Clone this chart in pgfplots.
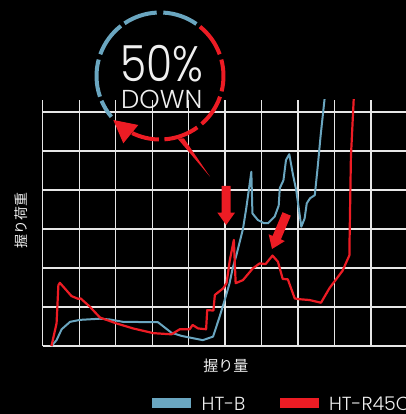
\documentclass[border=0pt]{standalone}
\usepackage{fontspec}
\usepackage{pgfplots}
\pgfplotsset{compat=1.18}
\IfFontExistsTF{Poppins Light}{\newfontfamily\pop{Poppins Light}}{\newfontfamily\pop{Poppins}}
\newfontfamily\cjk{Noto Sans CJK JP}
\definecolor{htb}{HTML}{6AA6C0}
\definecolor{htr}{HTML}{ED1C24}
\definecolor{gridc}{HTML}{E6E6E6}
\definecolor{txt}{HTML}{F0F0F0}
\begin{document}
\begin{tikzpicture}[x=1bp,y=1bp]
\useasboundingbox (0,0) rectangle (406,414);
\fill[black] (0,0) rectangle (406,414);
\clip (0,0) rectangle (406,414);
\begin{axis}[at={(42.7bp,68bp)}, anchor=south west, scale only axis,
  width=363.3bp, height=246bp,
  xmin=0, xmax=9.96, ymin=0, ymax=6.31,
  xtick={0,...,9}, ytick={0,...,6},
  xticklabels={}, yticklabels={},
  major tick length=0pt,
  grid=major, grid style={gridc, line width=1.2bp},
  axis line style={draw=none},
  xlabel={\cjk 握り量}, ylabel={\cjk 握り荷重},
  xlabel style={at={(axis description cs:0.504,-0.0825)}, anchor=center, inner sep=0pt,
    font=\fontsize{15}{15}\selectfont, text=txt},
  ylabel style={at={(axis description cs:-0.0603,0.509)}, anchor=center, inner sep=0pt,
    font=\fontsize{14}{14}\selectfont, text=txt},
]
\addplot[htb, line width=2bp, line join=round] coordinates {
(0.24,0) (0.38,0.15) (0.52,0.43) (0.75,0.62) (1.02,0.67) (1.57,0.70) (1.84,0.68)
(2.2,0.62) (3.16,0.61) (3.53,0.34) (3.80,0.26) (4.39,0.15) (4.67,0.24) (4.85,0.75)
(4.99,1.18) (5.12,1.6) (5.21,2.0) (5.31,2.33) (5.49,3.0) (5.58,3.53) (5.67,4.13)
(5.72,4.47) (5.75,3.4) (5.90,3.23) (6.07,3.15) (6.18,3.15) (6.36,3.32) (6.47,3.6)
(6.50,4.05) (6.60,4.25) (6.67,4.77) (6.76,4.92) (6.86,4.4) (6.95,4.0) (7.09,3.06)
(7.18,3.27) (7.24,3.66) (7.33,3.79) (7.46,3.87) (7.54,4.6) (7.62,5.4) (7.735,6.4)
};
\addplot[htr, line width=2.2bp, line join=round] coordinates {
(0.24,0) (0.38,0.58) (0.43,1.56) (0.47,1.62) (0.79,1.28) (0.97,1.21) (1.04,1.22)
(1.29,1.01) (1.57,0.73) (2.02,0.58) (2.48,0.45) (3.03,0.33) (3.53,0.30) (3.76,0.43)
(4.03,0.43) (4.11,0.54) (4.26,0.45) (4.48,0.43) (4.51,0.92) (4.68,0.91) (4.72,1.31)
(4.95,1.48) (5.04,1.61) (5.13,2.2) (5.24,2.72) (5.29,1.61) (5.49,1.69) (5.76,1.99)
(5.95,2.12) (6.11,2.1) (6.30,2.32) (6.45,2.16) (6.58,1.72) (6.72,1.71) (6.91,1.22)
(7.04,1.2) (7.31,1.18) (7.63,1.11) (7.86,1.48) (8.22,1.93) (8.41,2.33) (8.41,2.55)
(8.45,4.85) (8.53,6.4)
};
\end{axis}
% ring
\begin{scope}[line width=4bp]
\foreach \a/\b in {55/87, 93/124, 128/160, 165/199, 203/220}
  \draw[htb] (160,338) ++(\a:63.5) arc[start angle=\a, end angle=\b, radius=63.5];
\foreach \a/\b in {20/51, -14/15, -49/-19, -86/-54, -116/-91}
  \draw[htr] (160,338) ++(\a:63.5) arc[start angle=\a, end angle=\b, radius=63.5];
\end{scope}
\fill[htr] (113.3,294) -- (123.3,270.7) -- (138.3,289) -- cycle;
\fill[htr] (177.5,275.5) -- (184,275.5) -- (210,237.3) -- cycle;
% arrows
\fill[htr, shift={(226.2,189)}] (-4.5,39) -- (4.5,39) -- (4.5,12.3) -- (8.8,12.3) -- (0,0) -- (-8.8,12.3) -- (-4.5,12.3) -- cycle;
\fill[htr, shift={(272,165)}, rotate=-22.7] (-4.5,38) -- (4.5,38) -- (4.5,12.3) -- (8.8,12.3) -- (0,0) -- (-8.8,12.3) -- (-4.5,12.3) -- cycle;
% texts
\node[anchor=base, inner sep=0pt, text=txt, font=\pop\fontsize{50}{50}\selectfont, xscale=0.85] at (161.7,332.3) {50\%};
\node[anchor=base, inner sep=0pt, text=txt, font=\pop\fontsize{26}{26}\selectfont] at (161.7,305.7) {DOWN};
% legend
\fill[htb] (151.7,5.7) rectangle (190.7,15.7);
\fill[htr] (280,5.7) rectangle (319,15.7);
\node[anchor=base west, inner sep=0pt, text=txt, font=\pop\fontsize{19}{19}\selectfont] at (201.5,4) {HT-B};
\node[anchor=base west, inner sep=0pt, text=txt, font=\pop\fontsize{19}{19}\selectfont] at (328.8,4) {HT-R45C};
\end{tikzpicture}
\end{document}
